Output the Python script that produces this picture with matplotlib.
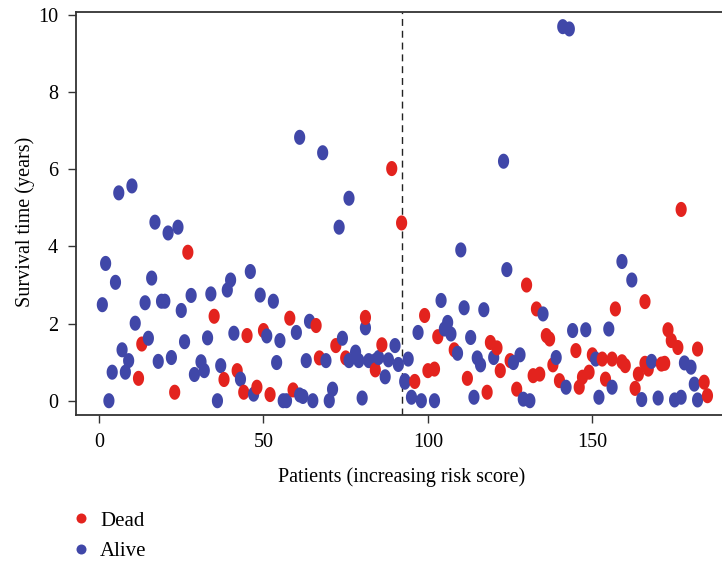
import numpy as np
import matplotlib
matplotlib.use("Agg")
import matplotlib.pyplot as plt
from matplotlib.path import Path
from matplotlib.lines import Line2D

# patient rank (by increasing risk score), survival time in years, status (1 = dead)
rank = [1, 2, 3, 4, 5, 6, 7, 8, 9, 10, 11, 12, 13, 14, 15, 16, 17, 18, 19, 20,
        21, 22, 23, 24, 25, 26, 27, 28, 29, 31, 32, 33, 34, 35, 36, 37, 38, 39, 40, 41,
        42, 43, 44, 45, 46, 47, 48, 49, 50, 51, 52, 53, 54, 55, 56, 57, 58, 59, 60, 61,
        61, 62, 63, 64, 65, 66, 67, 68, 69, 70, 71, 72, 73, 74, 75, 76, 76, 78, 79, 80,
        81, 81, 82, 84, 84, 85, 86, 87, 88, 89, 90, 91, 92, 93, 93, 94, 95, 96, 97, 98,
        99, 100, 102, 102, 103, 104, 105, 106, 107, 108, 109, 110, 111, 112, 113, 114, 115, 116, 117, 118,
        119, 120, 121, 122, 123, 124, 125, 126, 127, 128, 129, 130, 131, 132, 133, 134, 135, 136, 137, 138,
        139, 140, 141, 142, 143, 144, 145, 146, 147, 148, 149, 150, 151, 152, 153, 154, 155, 156, 156, 157,
        159, 159, 160, 162, 163, 164, 165, 166, 166, 167, 168, 170, 171, 172, 173, 174, 175, 176, 177, 177,
        178, 180, 181, 182, 182, 184, 185]
years = [2.49, 3.56, 0.0, 0.74, 3.07, 5.39, 1.32, 0.74, 1.04, 5.57, 2.01, 0.58, 1.47, 2.54, 1.62, 3.18, 4.63, 1.02, 2.58, 2.58,
         4.35, 1.12, 0.22, 4.50, 2.34, 1.53, 3.85, 2.73, 0.68, 1.01, 0.78, 1.63, 2.77, 2.19, 0.0, 0.91, 0.55, 2.87, 3.13, 1.75,
         0.78, 0.56, 0.22, 1.69, 3.35, 0.17, 0.35, 2.74, 1.82, 1.68, 0.16, 2.58, 0.99, 1.56, 0.0, 0.0, 2.14, 0.28, 1.77, 6.83,
         0.15, 0.11, 1.04, 2.06, 0.0, 1.95, 1.11, 6.43, 1.04, 0.0, 0.30, 1.43, 4.50, 1.62, 1.11, 1.04, 5.25, 1.26, 1.04, 0.07,
         1.89, 2.16, 1.04, 1.04, 0.80, 1.12, 1.45, 0.62, 1.06, 6.02, 1.43, 0.94, 4.61, 0.52, 0.48, 1.08, 0.09, 0.50, 1.77, 0.0,
         2.21, 0.78, 0.82, 0.0, 1.66, 2.60, 1.86, 2.03, 1.73, 1.32, 1.23, 3.91, 2.41, 0.58, 1.64, 0.09, 1.11, 0.93, 2.36, 0.22,
         1.51, 1.12, 1.37, 0.78, 6.21, 3.40, 1.04, 0.99, 0.30, 1.19, 0.04, 3.00, 0.0, 0.65, 2.38, 0.69, 2.25, 1.69, 1.60, 0.93,
         1.12, 0.52, 9.70, 0.35, 9.64, 1.82, 1.30, 0.35, 0.61, 1.84, 0.74, 1.19, 1.08, 0.09, 1.08, 0.56, 1.86, 1.08, 0.35, 2.38,
         3.61, 1.01, 0.91, 3.13, 0.32, 0.69, 0.03, 2.57, 0.97, 0.82, 1.02, 0.07, 0.95, 0.97, 1.84, 1.56, 0.02, 1.38, 0.09, 4.96,
         0.98, 0.87, 0.43, 0.02, 1.34, 0.48, 0.13]
status = [0, 0, 0, 0, 0, 0, 0, 0, 0, 0, 0, 1, 1, 0, 0, 0, 0, 0, 0, 0,
          0, 0, 1, 0, 0, 0, 1, 0, 0, 0, 0, 0, 0, 1, 0, 0, 1, 0, 0, 0,
          1, 0, 1, 1, 0, 0, 1, 0, 1, 0, 1, 0, 0, 0, 0, 0, 1, 1, 0, 0,
          0, 0, 0, 0, 0, 1, 1, 0, 0, 0, 0, 1, 0, 0, 1, 0, 0, 0, 0, 0,
          0, 1, 0, 0, 1, 0, 1, 0, 0, 1, 0, 0, 1, 0, 0, 0, 0, 1, 0, 0,
          1, 1, 1, 0, 1, 0, 0, 0, 0, 1, 0, 0, 0, 1, 0, 0, 0, 0, 0, 1,
          1, 0, 1, 1, 0, 0, 1, 0, 1, 0, 0, 1, 0, 1, 1, 1, 0, 1, 1, 1,
          0, 1, 0, 0, 0, 0, 1, 1, 1, 0, 1, 1, 0, 0, 1, 1, 0, 1, 0, 1,
          0, 1, 1, 0, 1, 1, 0, 1, 1, 1, 0, 0, 1, 1, 1, 1, 0, 1, 0, 1,
          0, 0, 0, 0, 1, 1, 1]
cutoff = 92
legend_labels = ["Dead", "Alive"]

red = "#E3231E"
blue = "#4047A8"

plt.rcParams["font.family"] = ["Liberation Serif", "DejaVu Serif"]

# slightly tall ellipse like the stretched R dots
t = np.linspace(0, 2 * np.pi, 64)
ell = Path(np.column_stack([0.74 * np.cos(t), np.sin(t)]), closed=True)

fig = plt.figure(figsize=(7.22, 5.63), dpi=100)
ax = fig.add_axes([0.1053, 0.2629, 0.911, 0.7158])

cols = [red if s == 1 else blue for s in status]
ax.scatter(rank, years, s=118, marker=ell, c=cols, linewidths=0, zorder=3)
ax.axvline(cutoff, color="#222222", ls=(0, (5, 3.5)), lw=1.0, zorder=2)

ax.set_xlim(-7.0, 193.0)
ax.set_ylim(-0.37, 10.08)
ax.set_xticks([0, 50, 100, 150])
ax.set_yticks([0, 2, 4, 6, 8, 10])
ax.tick_params(length=5.8, width=1, pad=7, labelsize=14.5, color="#333333")
ax.spines["right"].set_visible(False)
for sp in ax.spines.values():
    sp.set_linewidth(1.3)
    sp.set_color("#333333")

ax.set_xlabel("Patients (increasing risk score)", fontsize=14.5)
ax.set_ylabel("Survival time (years)", fontsize=14.5)
ax.xaxis.set_label_coords(0.495, -0.13)
ax.yaxis.set_label_coords(-0.062, 0.479)

handles = [Line2D([], [], ls="", marker="o", ms=7.2, mec="none", mfc=red),
           Line2D([], [], ls="", marker="o", ms=7.2, mec="none", mfc=blue)]
fig.legend(handles, legend_labels, loc="upper left", bbox_to_anchor=(0.102, 0.0925),
           frameon=False, fontsize=15, handlelength=0.7, handletextpad=0.56,
           labelspacing=0.54, borderpad=0, borderaxespad=0)

fig.savefig("out.png", dpi=100)
